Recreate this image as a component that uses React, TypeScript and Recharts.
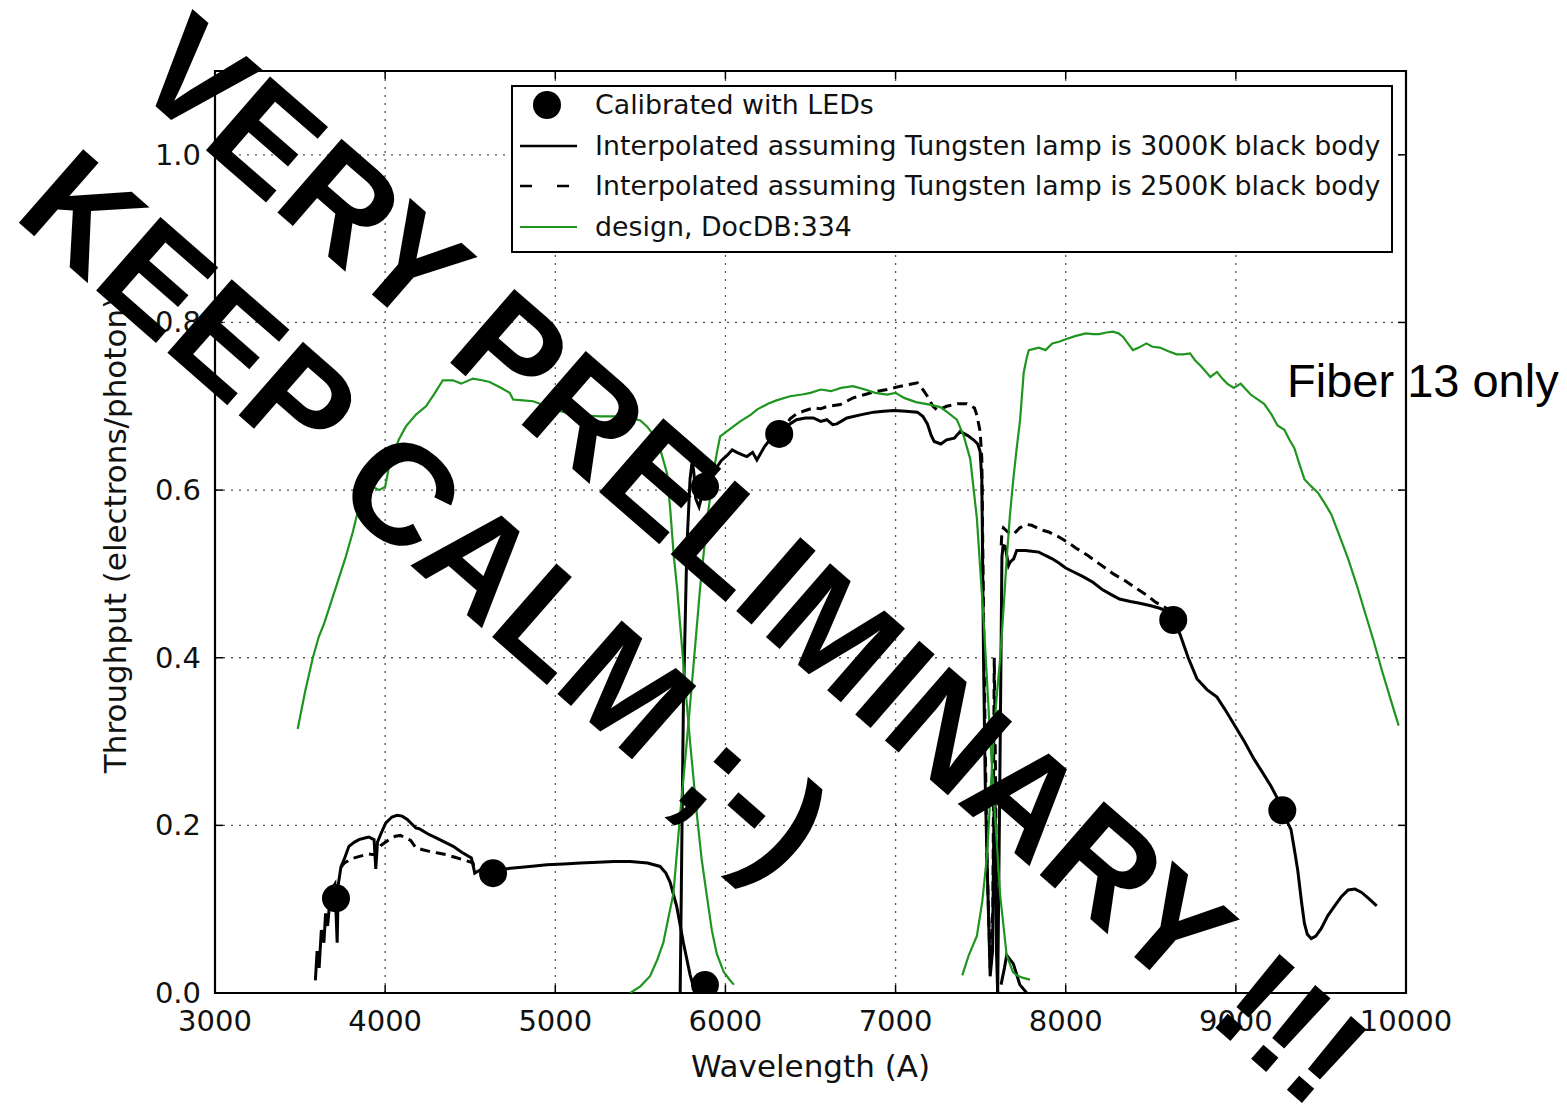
import { ComposedChart, Line, Scatter, XAxis, YAxis, CartesianGrid, ReferenceArea, Legend, Label } from 'recharts';

type Pt = [number, number];

// wavelength (A), throughput
const ledPoints: Pt[] = [
    [3711, 0.113], [4634, 0.143], [5880, 0.0095], [5880, 0.604], [6316, 0.667], [8632, 0.445], [9273, 0.218],
];

const blueT3000: Pt[] = [
    [3590, 0.015], [3600, 0.05], [3612, 0.03], [3625, 0.075], [3640, 0.06], [3650, 0.095], [3662, 0.08],
    [3675, 0.11], [3690, 0.125], [3705, 0.13], [3718, 0.06], [3725, 0.13], [3740, 0.15], [3760, 0.16],
    [3787, 0.175], [3820, 0.18], [3846, 0.183], [3880, 0.185], [3905, 0.186], [3935, 0.183], [3945, 0.148],
    [3955, 0.18], [3975, 0.19], [4004, 0.203], [4040, 0.21], [4070, 0.212], [4100, 0.211], [4130, 0.207],
    [4160, 0.201], [4180, 0.197], [4200, 0.196], [4250, 0.19], [4300, 0.185], [4350, 0.18], [4400, 0.175],
    [4450, 0.168], [4507, 0.161], [4527, 0.143], [4560, 0.147], [4634, 0.143], [4700, 0.148], [4753, 0.149],
    [4850, 0.151], [4951, 0.153], [5050, 0.154], [5148, 0.155], [5250, 0.156], [5345, 0.157], [5440, 0.157],
    [5542, 0.155], [5616, 0.151], [5650, 0.143], [5675, 0.132], [5714, 0.103], [5753, 0.06], [5792, 0.022],
    [5822, 0],
];

const blueT2500: Pt[] = [
    [3740, 0.15], [3760, 0.155], [3800, 0.16], [3850, 0.163], [3900, 0.166], [3935, 0.165], [3950, 0.17],
    [3975, 0.176], [4024, 0.183], [4060, 0.187], [4090, 0.188], [4120, 0.185], [4150, 0.182], [4181, 0.173],
    [4220, 0.171], [4260, 0.169], [4310, 0.167], [4359, 0.165], [4410, 0.162], [4458, 0.159], [4490, 0.157],
    [4517, 0.155], [4527, 0.143],
];

const redT3000: Pt[] = [
    [5734, 0], [5743, 0.165], [5753, 0.345], [5773, 0.53], [5792, 0.613], [5805, 0.635], [5815, 0.62],
    [5825, 0.59], [5845, 0.58], [5870, 0.6], [5890, 0.605], [5910, 0.613], [5930, 0.62], [5949, 0.627],
    [5975, 0.635], [6008, 0.641], [6040, 0.648], [6067, 0.645], [6100, 0.642], [6126, 0.64], [6160, 0.645],
    [6185, 0.636], [6230, 0.652], [6280, 0.665], [6316, 0.667], [6350, 0.675], [6418, 0.684], [6470, 0.686],
    [6517, 0.686], [6560, 0.682], [6596, 0.684], [6630, 0.678], [6655, 0.679], [6714, 0.686], [6800, 0.69],
    [6872, 0.693], [6930, 0.694], [6990, 0.695], [7060, 0.694], [7128, 0.693], [7160, 0.688], [7187, 0.679],
    [7210, 0.665], [7227, 0.658], [7266, 0.655], [7300, 0.66], [7345, 0.662], [7380, 0.67], [7424, 0.665],
    [7458, 0.66], [7483, 0.655], [7497, 0.646], [7507, 0.613], [7517, 0.4], [7527, 0.25], [7537, 0.163],
    [7556, 0.02], [7570, 0.05], [7580, 0.25], [7586, 0.22], [7593, 0.05], [7600, 0],
];

const redT2500: Pt[] = [
    [6316, 0.667], [6340, 0.672], [6380, 0.685], [6418, 0.691], [6470, 0.695], [6517, 0.698], [6560, 0.697],
    [6600, 0.7], [6675, 0.702], [6750, 0.71], [6820, 0.714], [6872, 0.717], [6950, 0.72], [7030, 0.724],
    [7080, 0.726], [7128, 0.728], [7160, 0.72], [7187, 0.712], [7220, 0.7], [7247, 0.695], [7300, 0.7],
    [7365, 0.703], [7419, 0.703], [7464, 0.698], [7478, 0.689], [7497, 0.67], [7507, 0.637], [7517, 0.45],
    [7527, 0.3], [7537, 0.163], [7556, 0.03], [7572, 0.1], [7580, 0.4], [7588, 0.25], [7595, 0.05],
];

const nirT3000: Pt[] = [
    [7600, 0], [7615, 0.3], [7625, 0.52], [7632, 0.534], [7644, 0.533], [7664, 0.51], [7673, 0.514],
    [7694, 0.518], [7712, 0.528], [7763, 0.528], [7800, 0.527], [7842, 0.526], [7880, 0.522], [7921, 0.518],
    [7960, 0.513], [8000, 0.507], [8050, 0.502], [8099, 0.497], [8160, 0.49], [8217, 0.481], [8270, 0.475],
    [8316, 0.47], [8380, 0.467], [8435, 0.465], [8500, 0.462], [8553, 0.459], [8600, 0.455], [8632, 0.445],
    [8672, 0.428], [8720, 0.4], [8771, 0.375], [8830, 0.362], [8889, 0.353], [8940, 0.337], [8988, 0.321],
    [9050, 0.3], [9107, 0.279], [9160, 0.262], [9206, 0.247], [9245, 0.232], [9275, 0.218], [9300, 0.205],
    [9324, 0.195], [9345, 0.17], [9364, 0.146], [9385, 0.11], [9403, 0.083], [9420, 0.07], [9443, 0.065],
    [9470, 0.068], [9502, 0.077], [9540, 0.092], [9581, 0.104], [9620, 0.115], [9660, 0.123], [9700, 0.124],
    [9739, 0.12], [9780, 0.113], [9828, 0.104],
];

const nirBump: Pt[] = [
    [7620, 0.01], [7640, 0.03], [7653, 0.045], [7672, 0.04], [7692, 0.035], [7730, 0.01], [7771, 0],
];

const nirT2500: Pt[] = [
    [7621, 0.534], [7625, 0.55], [7634, 0.555], [7660, 0.55], [7692, 0.547], [7730, 0.555], [7771, 0.559],
    [7800, 0.558], [7850, 0.553], [7900, 0.55], [7961, 0.544], [8010, 0.538], [8059, 0.531], [8130, 0.522],
    [8198, 0.512], [8280, 0.5], [8356, 0.491], [8420, 0.482], [8474, 0.475], [8530, 0.466], [8593, 0.459],
    [8632, 0.445],
];

const designBlue: Pt[] = [
    [3486, 0.315], [3530, 0.36], [3575, 0.4], [3610, 0.425], [3640, 0.44], [3669, 0.458], [3720, 0.49],
    [3768, 0.52], [3810, 0.55], [3846, 0.58], [3880, 0.595], [3925, 0.604], [3965, 0.6], [4000, 0.604],
    [4020, 0.625], [4043, 0.64], [4080, 0.66], [4122, 0.676], [4181, 0.69], [4240, 0.7], [4290, 0.715],
    [4339, 0.731], [4398, 0.731], [4447, 0.727], [4516, 0.733], [4570, 0.731], [4614, 0.729], [4680, 0.722],
    [4732, 0.716], [4752, 0.708], [4810, 0.707], [4870, 0.706], [4950, 0.7], [5030, 0.694], [5106, 0.69],
    [5180, 0.689], [5264, 0.688], [5350, 0.688], [5441, 0.686], [5500, 0.683], [5539, 0.676], [5580, 0.665],
    [5618, 0.648], [5657, 0.62], [5676, 0.576], [5697, 0.52], [5716, 0.483], [5754, 0.39], [5792, 0.3],
    [5832, 0.213], [5860, 0.16], [5890, 0.117], [5920, 0.075], [5949, 0.047], [5990, 0.025], [6028, 0.015],
    [6050, 0.01],
];

const designRed: Pt[] = [
    [5440, 0], [5500, 0.008], [5557, 0.02], [5600, 0.04], [5635, 0.06], [5665, 0.09], [5694, 0.118],
    [5734, 0.213], [5773, 0.3], [5812, 0.39], [5851, 0.483], [5880, 0.54], [5900, 0.576], [5929, 0.62],
    [5950, 0.645], [5969, 0.664], [6028, 0.673], [6087, 0.682], [6150, 0.69], [6185, 0.696], [6250, 0.703],
    [6300, 0.707], [6380, 0.712], [6450, 0.714], [6500, 0.716], [6560, 0.72], [6620, 0.718], [6680, 0.722],
    [6750, 0.724], [6820, 0.72], [6880, 0.716], [6950, 0.714], [7000, 0.716], [7050, 0.71], [7120, 0.705],
    [7200, 0.702], [7262, 0.699], [7310, 0.692], [7360, 0.684], [7400, 0.665], [7439, 0.637], [7478, 0.566],
    [7517, 0.447], [7556, 0.305], [7585, 0.21], [7615, 0.116], [7653, 0.045], [7690, 0.025], [7712, 0.021],
    [7750, 0.018], [7790, 0.016],
];

const designNir: Pt[] = [
    [7392, 0.021], [7430, 0.045], [7478, 0.068], [7510, 0.11], [7537, 0.163], [7556, 0.23], [7576, 0.305],
    [7595, 0.355], [7615, 0.4], [7635, 0.46], [7653, 0.518], [7672, 0.57], [7692, 0.613], [7712, 0.65],
    [7732, 0.684], [7753, 0.74], [7770, 0.757], [7783, 0.767], [7842, 0.77], [7881, 0.767], [7921, 0.775],
    [7960, 0.777], [8000, 0.78], [8060, 0.784], [8119, 0.787], [8160, 0.786], [8198, 0.786], [8240, 0.788],
    [8277, 0.789], [8310, 0.787], [8336, 0.783], [8365, 0.775], [8395, 0.767], [8430, 0.77], [8474, 0.775],
    [8510, 0.771], [8553, 0.77], [8600, 0.766], [8652, 0.762], [8690, 0.762], [8731, 0.763], [8760, 0.755],
    [8790, 0.749], [8820, 0.742], [8850, 0.735], [8889, 0.741], [8920, 0.733], [8949, 0.727], [8988, 0.722],
    [9028, 0.727], [9060, 0.72], [9087, 0.714], [9130, 0.708], [9166, 0.703], [9210, 0.69], [9245, 0.677],
    [9285, 0.672], [9315, 0.66], [9344, 0.65], [9375, 0.63], [9403, 0.613], [9440, 0.605], [9482, 0.597],
    [9520, 0.585], [9561, 0.571], [9610, 0.545], [9660, 0.518], [9710, 0.487], [9759, 0.454], [9810, 0.42],
    [9858, 0.385], [9910, 0.35], [9957, 0.319],
];

const xTicks = [3000, 4000, 5000, 6000, 7000, 8000, 9000, 10000];
const yTicks = [0, 0.2, 0.4, 0.6, 0.8, 1.0];

const legendLabels = [
    'Calibrated with LEDs',
    'Interpolated assuming Tungsten lamp is 3000K black body',
    'Interpolated assuming Tungsten lamp is 2500K black body',
    'design, DocDB:334',
];

const W = 1567;
const H = 1115;
const MARGIN = { top: 71, right: 161, bottom: 62, left: 155 };
const PLOT_W = W - MARGIN.left - MARGIN.right - 60;
const PLOT_H = H - MARGIN.top - MARGIN.bottom - 60;
const GREEN = '#1f951f';
const FONT = '"DejaVu Sans", Verdana, sans-serif';
const OVERLAY_FONT = '"Liberation Sans", Arial, sans-serif';

const toRows = (pts: Pt[]) => pts.map(([x, y]) => ({ x, y }));

function XTick(props: any) {
    const { x, y, payload } = props;
    return (
        <g>
            <line x1={x} x2={x} y1={y} y2={y - 8} stroke="black" strokeWidth={1.5} />
            <line x1={x} x2={x} y1={y - PLOT_H} y2={y - PLOT_H + 8} stroke="black" strokeWidth={1.5} />
            <text x={x} y={y + 38} textAnchor="middle" fontSize={29} fontFamily={FONT} fill="#111">
                {payload.value}
            </text>
        </g>
    );
}

function YTick(props: any) {
    const { x, y, payload } = props;
    return (
        <g>
            <line x1={x} x2={x + 8} y1={y} y2={y} stroke="black" strokeWidth={1.5} />
            <line x1={x + PLOT_W} x2={x + PLOT_W - 8} y1={y} y2={y} stroke="black" strokeWidth={1.5} />
            <text x={x - 14} y={y + 10} textAnchor="end" fontSize={29} fontFamily={FONT} fill="#111">
                {Number(payload.value).toFixed(1)}
            </text>
        </g>
    );
}

function LegendBox() {
    const rows = [20, 61, 101, 142];
    return (
        <svg width={882} height={168} style={{ display: 'block' }}>
            <rect x={1} y={1} width={880} height={166} fill="white" stroke="black" strokeWidth={2} />
            <circle cx={36} cy={rows[0]} r={14} fill="black" />
            <line x1={9} x2={66} y1={rows[1]} y2={rows[1]} stroke="black" strokeWidth={2.5} />
            <line x1={9} x2={60} y1={rows[2]} y2={rows[2]} stroke="black" strokeWidth={2.5} strokeDasharray="12 25" />
            <line x1={9} x2={66} y1={rows[3]} y2={rows[3]} stroke={GREEN} strokeWidth={2} />
            {legendLabels.map((t, i) => (
                <text key={t} x={84} y={rows[i] + 9} fontSize={26.8} fontFamily={FONT} fill="#111">
                    {t}
                </text>
            ))}
        </svg>
    );
}

const overlayStyle = (cx: number, cy: number, size: number, angle: number): React.CSSProperties => ({
    position: 'absolute',
    left: cx,
    top: cy,
    transform: `translate(-50%, -50%) rotate(${angle}deg)`,
    fontFamily: OVERLAY_FONT,
    fontWeight: 700,
    fontSize: size,
    lineHeight: 1,
    whiteSpace: 'nowrap',
    color: 'black',
    pointerEvents: 'none',
});

export default function App() {
    return (
        <div style={{ position: 'absolute', left: 0, top: 0, width: W, height: H, background: 'white' }}>
            <ComposedChart width={W} height={H} margin={MARGIN}>
                <CartesianGrid stroke="#555" strokeDasharray="2 6" strokeWidth={1.3} />
                <XAxis
                    dataKey="x"
                    type="number"
                    domain={[3000, 10000]}
                    ticks={xTicks}
                    allowDataOverflow
                    axisLine={false}
                    tickLine={false}
                    tickSize={0}
                    tickMargin={0}
                    height={60}
                    tick={<XTick />}
                    interval={0}
                >
                    <Label
                        content={(p: any) => (
                            <text
                                x={p.viewBox.x + p.viewBox.width / 2}
                                y={p.viewBox.y + 84}
                                textAnchor="middle"
                                fontSize={31}
                                fontFamily={FONT}
                                fill="#111"
                            >
                                Wavelength (A)
                            </text>
                        )}
                    />
                </XAxis>
                <YAxis
                    type="number"
                    domain={[0, 1.1]}
                    ticks={yTicks}
                    allowDataOverflow
                    axisLine={false}
                    tickLine={false}
                    tickSize={0}
                    tickMargin={0}
                    width={60}
                    tick={<YTick />}
                    interval={0}
                >
                    <Label
                        content={(p: any) => {
                            const lx = p.viewBox.x - 29;
                            const ly = p.viewBox.y + p.viewBox.height / 2 + 3;
                            return (
                                <text
                                    x={lx}
                                    y={ly}
                                    transform={`rotate(-90, ${lx}, ${ly})`}
                                    textAnchor="middle"
                                    fontSize={31}
                                    fontFamily={FONT}
                                    fill="#111"
                                >
                                    Throughput (electrons/photon)
                                </text>
                            );
                        }}
                    />
                </YAxis>

                <Scatter
                    data={toRows(ledPoints)}
                    dataKey="y"
                    fill="black"
                    isAnimationActive={false}
                    shape={(p: any) => <circle cx={p.cx} cy={p.cy} r={14} fill="black" />}
                />

                {[blueT3000, redT3000, nirT3000, nirBump].map((s, i) => (
                    <Line
                        key={`s${i}`}
                        data={toRows(s)}
                        dataKey="y"
                        type="linear"
                        stroke="black"
                        strokeWidth={3}
                        dot={false}
                        isAnimationActive={false}
                    />
                ))}
                {[blueT2500, redT2500, nirT2500].map((s, i) => (
                    <Line
                        key={`d${i}`}
                        data={toRows(s)}
                        dataKey="y"
                        type="linear"
                        stroke="black"
                        strokeWidth={3}
                        strokeDasharray="10 6"
                        dot={false}
                        isAnimationActive={false}
                    />
                ))}
                {[designBlue, designRed, designNir].map((s, i) => (
                    <Line
                        key={`g${i}`}
                        data={toRows(s)}
                        dataKey="y"
                        type="linear"
                        stroke={GREEN}
                        strokeWidth={2.2}
                        dot={false}
                        isAnimationActive={false}
                    />
                ))}

                <ReferenceArea x1={3000} x2={10000} y1={0} y2={1.1} fill="none" stroke="black" strokeWidth={2.2} />

                <Legend
                    layout="horizontal"
                    verticalAlign="middle"
                    align="center"
                    content={() => <LegendBox />}
                    wrapperStyle={{ position: 'absolute', left: 511, top: 85, width: 882, height: 168 }}
                />
            </ComposedChart>

            <div style={overlayStyle(752, 560, 142, 41)}>VERY PRELIMINARY !!!</div>
            <div style={overlayStyle(426, 514, 142, 41.2)}>KEEP CALM ;-)</div>
            <div
                style={{
                    position: 'absolute',
                    left: 1287,
                    top: 357,
                    fontFamily: OVERLAY_FONT,
                    fontSize: 47,
                    lineHeight: 1,
                    whiteSpace: 'nowrap',
                    color: 'black',
                }}
            >
                Fiber 13 only
            </div>
        </div>
    );
}
